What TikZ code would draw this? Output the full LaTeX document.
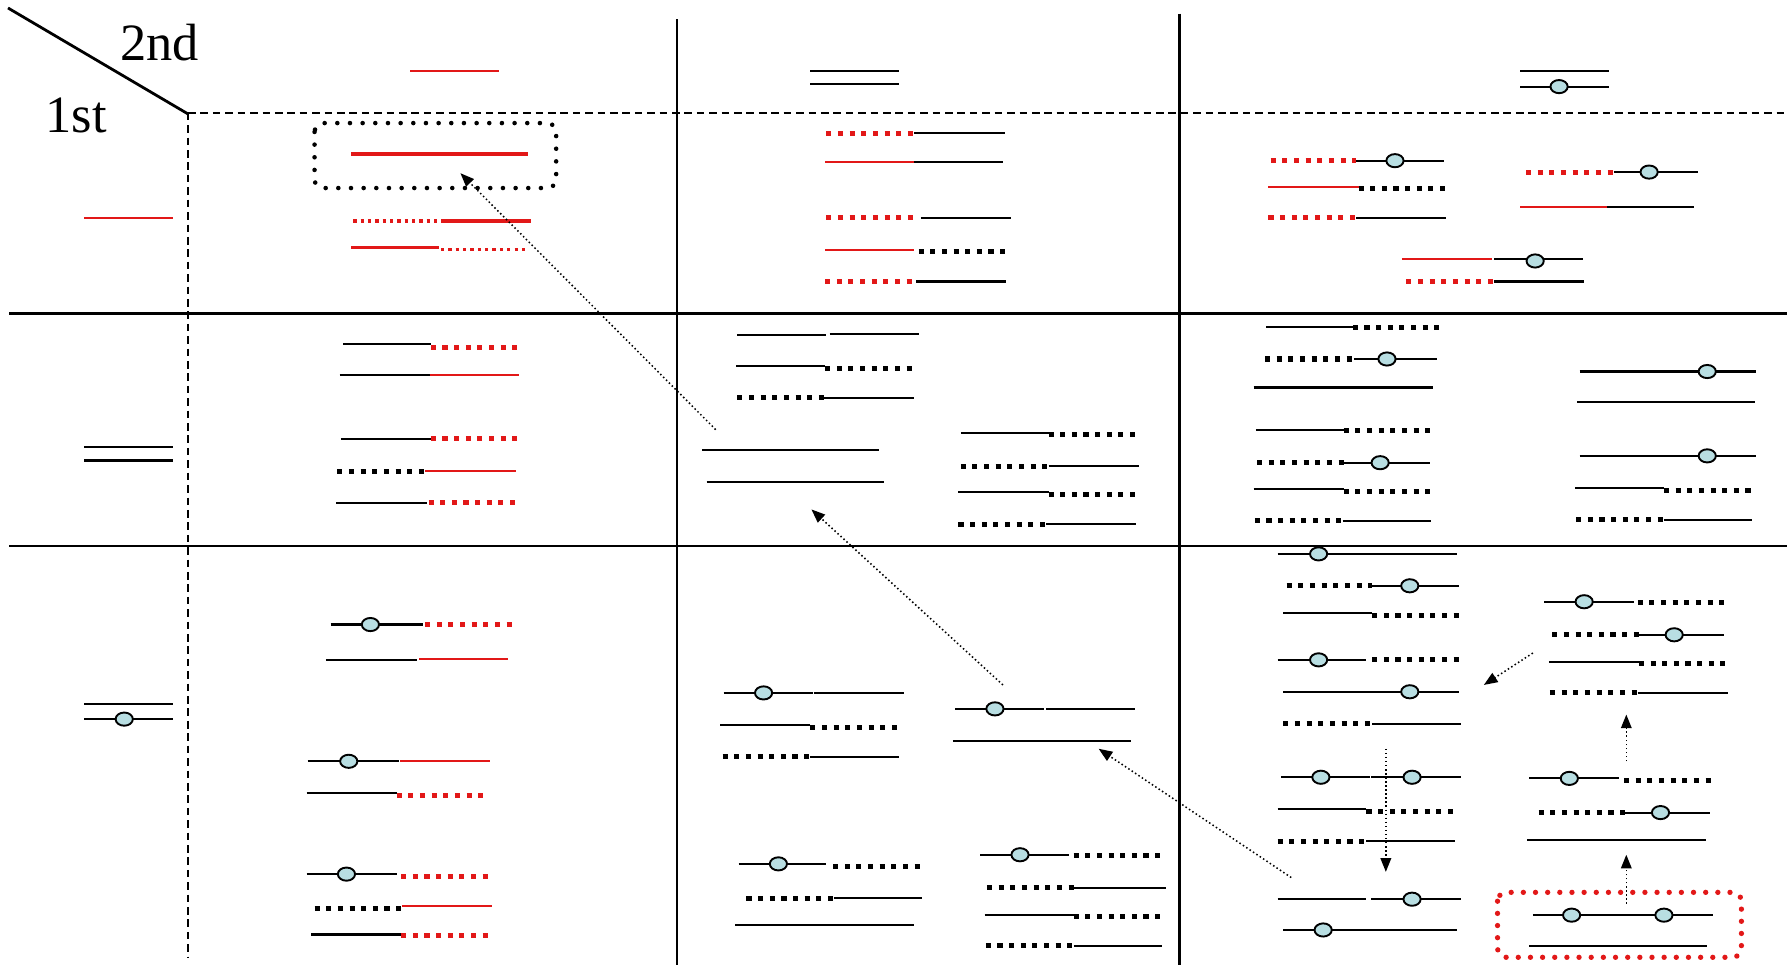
\documentclass[tikz,border=0pt]{standalone}
\usepackage{fontspec}
\setmainfont{Liberation Serif}
\usetikzlibrary{arrows.meta,shapes.geometric}
\definecolor{cred}{RGB}{226,24,24}
\definecolor{cfill}{RGB}{184,222,226}
\tikzset{
  grid/.style={line width=1.1pt,black},
  gdash/.style={line width=0.9pt,black,dash pattern=on 3pt off 1.9pt},
  sb/.style={line width=0.85pt,black},
  rs/.style={line width=0.75pt,cred},
  rt/.style={line width=1.4pt,cred},
  bd/.style={line width=2pt,black,dash pattern=on 2pt off 2.6pt},
  rd/.style={line width=2pt,cred,dash pattern=on 2pt off 2.6pt},
  rdt/.style={line width=1.3pt,cred,dash pattern=on 1.3pt off 1.6pt},
  cent/.style={ellipse,draw=black,fill=cfill,line width=0.75pt,inner sep=0pt,minimum width=6.8pt,minimum height=5.2pt},
  bbox/.style={black,line width=1.8pt,dash pattern=on 0pt off 5pt,line cap=round,rounded corners=3.5pt},
  rbox/.style={cred,line width=2.1pt,dash pattern=on 0pt off 4.8pt,line cap=round,rounded corners=3.5pt},
  arr/.style={line width=0.6pt,black,dash pattern=on 0.6pt off 1pt,-{Triangle[length=5.4pt,width=4.2pt]}},
  lbl/.style={inner sep=0pt,font=\fontsize{20.7}{24}\selectfont}
}
\newcommand\chr[4]{\draw[#1] (#2,#4) -- (#3,#4);}
\newcommand\cen[3]{\node[cent] (#1) at (#2,#3) {};}
\begin{document}
\begin{tikzpicture}[x=0.45pt,y=-0.45pt]
\useasboundingbox (0,0) rectangle (1568,847);
% grid
\draw[grid] (7,7) -- (165,100);
\draw[gdash] (165,99) -- (1568,99);
\draw[gdash] (165,99) -- (165,840);
\draw[grid] (594,17) -- (594,847);
\draw[grid] (1035,12) -- (1035,847);
\draw[grid] (8,275) -- (1568,275);
\draw[grid] (8,479) -- (1568,479);
\node[lbl] (t2) at (140,37) {2nd};
\node[lbl] (t1) at (67,101) {1st};
% header row
\chr{rs}{360}{438}{62}
\chr{sb}{711}{789}{62} \chr{sb}{711}{789}{74}
\chr{sb}{1334}{1412}{62} \chr{sb}{1334}{1412}{76} \cen{c1}{1368}{76}
% header column
\chr{rs}{74}{152}{191}
\chr{sb}{74}{152}{392} \chr{sb}{74}{152}{404}
\chr{sb}{74}{152}{618} \chr{sb}{74}{152}{631} \cen{c2}{109}{631}
% cell 1,1
\draw[bbox] (276,108) rectangle (488,165);
\chr{rt}{308}{463}{135}
\chr{rdt}{310}{385}{194} \chr{rt}{387}{466}{194}
\chr{rt}{308}{385}{217} \chr{rdt}{387}{463}{219}
% cell 1,2
\chr{rd}{725}{802}{117} \chr{sb}{802}{882}{117}
\chr{rs}{724}{802}{142} \chr{sb}{802}{880}{142}
\chr{rd}{725}{802}{191} \chr{sb}{808}{887}{191}
\chr{rs}{724}{802}{219} \chr{bd}{806}{884}{221}
\chr{rd}{724}{802}{247} \chr{sb}{804}{883}{247}
% cell 1,3
\chr{rd}{1115}{1190}{141} \chr{sb}{1190}{1267}{141} \cen{c3}{1224}{141}
\chr{rs}{1113}{1192}{164} \chr{bd}{1192}{1270}{165}
\chr{rd}{1113}{1190}{191} \chr{sb}{1190}{1269}{191}
\chr{rd}{1339}{1416}{151} \chr{sb}{1416}{1490}{151} \cen{c4}{1447}{151}
\chr{rs}{1334}{1410}{182} \chr{sb}{1410}{1486}{182}
\chr{rs}{1230}{1309}{227} \chr{sb}{1311}{1389}{227} \cen{c5}{1347}{229}
\chr{rd}{1234}{1311}{247} \chr{sb}{1311}{1390}{247}
% cell 2,1
\chr{sb}{301}{378}{302} \chr{rd}{378}{456}{305}
\chr{sb}{298}{377}{329} \chr{rs}{377}{455}{329}
\chr{sb}{299}{378}{385} \chr{rd}{378}{456}{385}
\chr{bd}{296}{373}{414} \chr{rs}{373}{453}{413}
\chr{sb}{295}{375}{441} \chr{rd}{376}{453}{441}
% cell 2,2
\chr{sb}{647}{725}{294} \chr{sb}{728}{806}{293}
\chr{sb}{646}{724}{321} \chr{bd}{724}{802}{323}
\chr{bd}{647}{723}{349} \chr{sb}{723}{802}{349}
\chr{sb}{616}{771}{395}
\chr{sb}{620}{776}{423}
\chr{sb}{843}{920}{380} \chr{bd}{920}{997}{381}
\chr{bd}{843}{920}{409} \chr{sb}{920}{999}{409}
\chr{sb}{841}{920}{432} \chr{bd}{920}{997}{434}
\chr{bd}{841}{918}{460} \chr{sb}{918}{997}{460}
% cell 2,3
\chr{sb}{1111}{1187}{287} \chr{bd}{1187}{1263}{287}
\chr{bd}{1110}{1188}{315} \chr{sb}{1188}{1261}{315} \cen{c6}{1217}{315}
\chr{sb}{1100}{1257}{340}
\chr{sb}{1102}{1179}{377} \chr{bd}{1179}{1256}{378}
\chr{bd}{1103}{1179}{406} \chr{sb}{1179}{1255}{406} \cen{c7}{1211}{406}
\chr{sb}{1100}{1179}{429} \chr{bd}{1179}{1256}{431}
\chr{bd}{1101}{1178}{457} \chr{sb}{1178}{1256}{457}
\chr{sb}{1386}{1541}{326} \cen{c8}{1498}{326}
\chr{sb}{1384}{1540}{353}
\chr{sb}{1386}{1541}{400} \cen{c9}{1498}{400}
\chr{sb}{1382}{1460}{428} \chr{bd}{1460}{1537}{430}
\chr{bd}{1383}{1460}{456} \chr{sb}{1460}{1537}{456}
% cell 3,1
\chr{sb}{290}{371}{548} \chr{rd}{373}{450}{548} \cen{c10}{325}{548}
\chr{sb}{286}{366}{579} \chr{rs}{368}{446}{578}
\chr{sb}{270}{350}{668} \chr{rs}{351}{430}{668} \cen{c11}{306}{668}
\chr{sb}{269}{348}{696} \chr{rd}{348}{425}{698}
\chr{sb}{269}{348}{767} \chr{rd}{352}{430}{769} \cen{c12}{304}{767}
\chr{bd}{276}{353}{797} \chr{rs}{353}{432}{795}
\chr{sb}{273}{352}{820} \chr{rd}{352}{430}{821}
% cell 3,2
\chr{sb}{635}{713}{608} \chr{sb}{714}{793}{608} \cen{c13}{670}{608}
\chr{sb}{632}{711}{636} \chr{bd}{711}{789}{638}
\chr{bd}{634}{711}{664} \chr{sb}{711}{789}{664}
\chr{sb}{838}{916}{622} \chr{sb}{918}{996}{622} \cen{c14}{873}{622}
\chr{sb}{836}{992}{650}
\chr{sb}{648}{725}{758} \chr{bd}{731}{809}{760} \cen{c15}{683}{758}
\chr{bd}{655}{732}{788} \chr{sb}{732}{809}{788}
\chr{sb}{645}{802}{812}
\chr{sb}{860}{938}{750} \chr{bd}{942}{1020}{751} \cen{c16}{895}{750}
\chr{bd}{866}{942}{779} \chr{sb}{942}{1023}{779}
\chr{sb}{864}{942}{803} \chr{bd}{942}{1020}{804}
\chr{bd}{865}{942}{830} \chr{sb}{942}{1020}{830}
% cell 3,3 left
\chr{sb}{1121}{1278}{486} \cen{c17}{1157}{486}
\chr{bd}{1129}{1204}{514} \chr{sb}{1204}{1280}{514} \cen{c18}{1237}{514}
\chr{sb}{1126}{1204}{538} \chr{bd}{1204}{1282}{540}
\chr{sb}{1121}{1199}{579} \chr{bd}{1204}{1282}{579} \cen{c19}{1157}{579}
\chr{sb}{1126}{1280}{607} \cen{c20}{1237}{607}
\chr{bd}{1126}{1204}{635} \chr{sb}{1204}{1282}{635}
\chr{sb}{1124}{1202}{682} \chr{sb}{1203}{1282}{682} \cen{c21}{1159}{682} \cen{c22}{1239}{682}
\chr{sb}{1121}{1199}{710} \chr{bd}{1199}{1277}{712}
\chr{bd}{1121}{1199}{738} \chr{sb}{1199}{1277}{738}
\chr{sb}{1121}{1199}{789} \chr{sb}{1203}{1282}{789} \cen{c23}{1239}{789}
\chr{sb}{1126}{1278}{816} \cen{c24}{1161}{816}
% cell 3,3 right
\chr{sb}{1355}{1434}{528} \chr{bd}{1437}{1515}{529} \cen{c25}{1390}{528}
\chr{bd}{1362}{1438}{557} \chr{sb}{1438}{1513}{557} \cen{c26}{1469}{557}
\chr{sb}{1359}{1438}{581} \chr{bd}{1438}{1516}{582}
\chr{bd}{1360}{1437}{608} \chr{sb}{1437}{1516}{608}
\chr{sb}{1342}{1421}{683} \chr{bd}{1425}{1502}{685} \cen{c27}{1377}{683}
\chr{bd}{1350}{1426}{713} \chr{sb}{1426}{1500}{713} \cen{c28}{1457}{713}
\chr{sb}{1340}{1497}{737}
\draw[rbox] (1314,783) rectangle (1528,840);
\chr{sb}{1345}{1424}{803} \chr{sb}{1424}{1503}{803} \cen{c29}{1379}{803} \cen{c30}{1460}{803}
\chr{sb}{1342}{1498}{830}
% arrows
\coordinate (a1s) at (628,377); \coordinate (a1e) at (404,152);
\coordinate (a2s) at (880,601); \coordinate (a2e) at (712,447);
\coordinate (a3s) at (1133,770); \coordinate (a3e) at (964,657);
\coordinate (a4s) at (1345,573); \coordinate (a4e) at (1302,601);
\coordinate (a5s) at (1216,657); \coordinate (a5e) at (1216,765);
\coordinate (a6s) at (1427,668); \coordinate (a6e) at (1427,627);
\coordinate (a7s) at (1427,793); \coordinate (a7e) at (1427,750);
\draw[arr] (a1s) -- (a1e);
\draw[arr] (a2s) -- (a2e);
\draw[arr] (a3s) -- (a3e);
\draw[arr] (a4s) -- (a4e);
\draw[arr] (a5s) -- (a5e);
\draw[arr] (a6s) -- (a6e);
\draw[arr] (a7s) -- (a7e);
\end{tikzpicture}
\end{document}
